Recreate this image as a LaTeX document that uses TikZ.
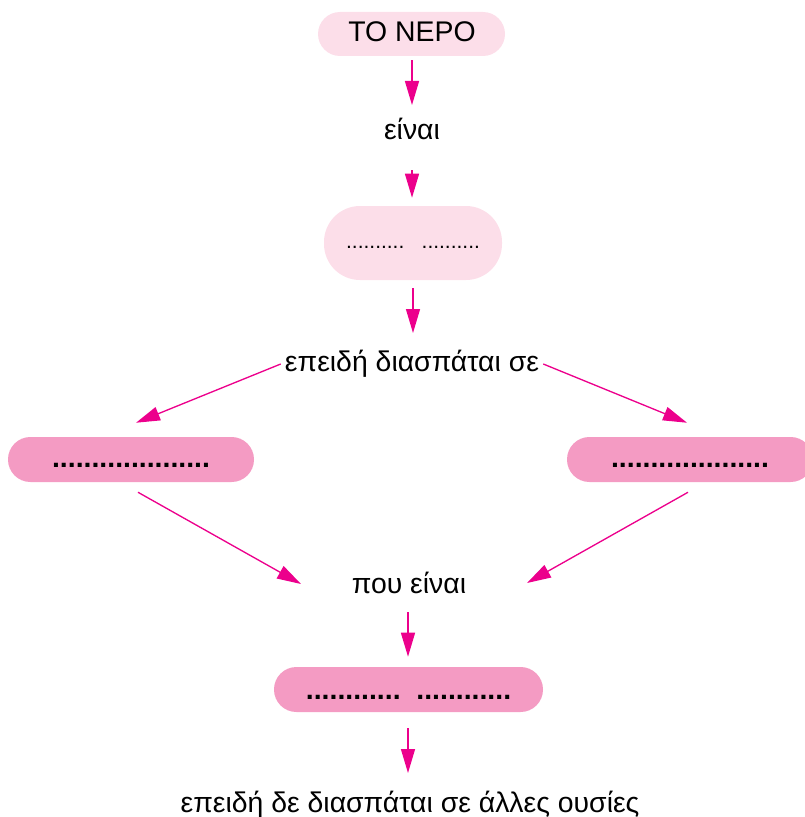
\documentclass[tikz,border=0pt]{standalone}
\usepackage{fontspec}
\setmainfont{Liberation Sans}
\usetikzlibrary{arrows.meta,calc}
\definecolor{lightpk}{HTML}{FCDEE9}
\definecolor{darkpk}{HTML}{F49BC3}
\definecolor{arrpk}{HTML}{EC008C}
\begin{document}
\begin{tikzpicture}[x=0.75pt,y=-0.75pt,
  txt/.style={inner sep=0pt,anchor=base,font=\fontsize{21.3}{25}\selectfont},
  lbox/.style={fill=lightpk,draw=none,inner sep=0pt},
  dbox/.style={fill=darkpk,draw=none,inner sep=0pt,minimum height=33.75pt,rounded corners=16.8pt},
  arr/.style={draw=arrpk,line width=1pt,-{Triangle[length=18pt,width=10.5pt]}}]
\useasboundingbox (0,0) rectangle (805,817);

\node[lbox,minimum width=140.25pt,minimum height=33pt,rounded corners=16.5pt] (top) at (411.5,34) {};
\node[txt] (toptxt) at (412,42) {ΤΟ ΝΕΡΟ};

\node[txt] (einai) at (412,139) {είναι};

\node[lbox,minimum width=133.5pt,minimum height=55.5pt,rounded corners=27pt] (box2) at (413,243) {};
\node[inner sep=0pt,anchor=base,font=\fontsize{15.7}{18}\selectfont] (dots2) at (413,248) {..........\hspace{13pt}..........};

\node[txt] (ep) at (412,371) {επειδή διασπάται σε};

\node[dbox,minimum width=184.5pt] (L) at (131,459.5) {};
\node[txt,font=\fontsize{21.3}{25}\selectfont\bfseries] (Ld) at (131,467) {....................};
\node[dbox,minimum width=184.5pt] (R) at (690,459.5) {};
\node[txt,font=\fontsize{21.3}{25}\selectfont\bfseries] (Rd) at (690,467) {....................};

\node[txt] (pou) at (409,593) {που είναι};

\node[dbox,minimum width=201.75pt] (bot) at (408.5,689.5) {};
\node[txt,font=\fontsize{21.3}{25}\selectfont\bfseries] (botd) at (408.5,699) {............\ \ ............};

\node[txt] (last) at (410,812) {επειδή δε διασπάται σε άλλες ουσίες};

\draw[arr] ($(top.south)+(0.5,4)$) -- ($(einai.base)+(0,-34)$);
\draw[arr] ($(einai.base)+(0,31)$) -- ($(box2.north)+(-1,-8)$);
\draw[arr] ($(box2.south)+(0,8)$) -- ($(ep.base)+(1,-38)$);
\draw[arr] ($(ep.base west)+(-4,-7)$) -- ($(L.north)+(5,-14)$);
\draw[arr] ($(ep.base east)+(4,-7)$) -- ($(R.north)+(-3,-14)$);
\draw[arr] ($(L.south)+(7,10)$) -- ($(pou.base)+(-108,-9)$);
\draw[arr] ($(R.south)+(-2,10)$) -- ($(pou.base)+(118,-10)$);
\draw[arr] ($(pou.base)+(-1,19)$) -- ($(bot.north)+(-0.5,-10)$);
\draw[arr] ($(bot.south)+(-0.5,16)$) -- ($(last.base)+(-2,-39)$);
\end{tikzpicture}
\end{document}
